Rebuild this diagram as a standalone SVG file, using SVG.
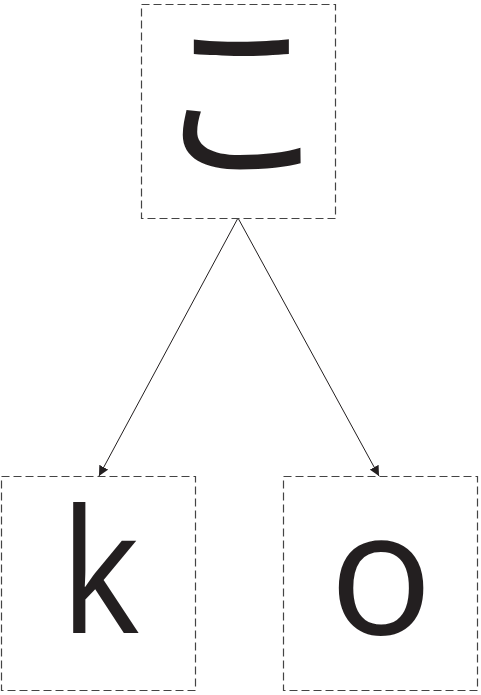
<svg xmlns="http://www.w3.org/2000/svg" width="481" height="695" viewBox="0 0 481 695">
<style>
.box{fill:#fff;stroke:#444;stroke-width:1.2;stroke-dasharray:8,4}
.lbl{font-family:"Open Sans","Noto Sans","Noto Sans CJK JP",sans-serif;fill:#231f20;text-anchor:middle}
.edge{stroke:#231f20;stroke-width:1;fill:none;marker-end:url(#arr)}
</style>
<defs>
<marker id="arr" viewBox="0 0 10 10" refX="10" refY="5" markerWidth="10" markerHeight="10" markerUnits="userSpaceOnUse" orient="auto">
<path d="M0,0 L10,5 L0,10 z" fill="#231f20"/>
</marker>
</defs>
<rect width="481" height="695" fill="#fff"/>
<g id="connectors">
<line class="edge" x1="238" y1="218" x2="99" y2="476"/>
<line class="edge" x1="238" y1="218" x2="379" y2="476"/>
</g>
<g id="node-ko">
<rect class="box" x="141.5" y="4.5" width="194" height="214"/>
<text class="lbl" x="241" y="165" font-size="178" style="font-family:'Noto Sans CJK JP',sans-serif">こ</text>
</g>
<g id="node-k">
<rect class="box" x="1.5" y="476.5" width="194" height="214"/>
<text class="lbl" transform="translate(100,633) scale(0.88,1)" x="0" y="0" font-size="172">k</text>
</g>
<g id="node-o">
<rect class="box" x="283.5" y="476.5" width="194" height="214"/>
<text class="lbl" x="381" y="634" font-size="172">o</text>
</g>
</svg>
